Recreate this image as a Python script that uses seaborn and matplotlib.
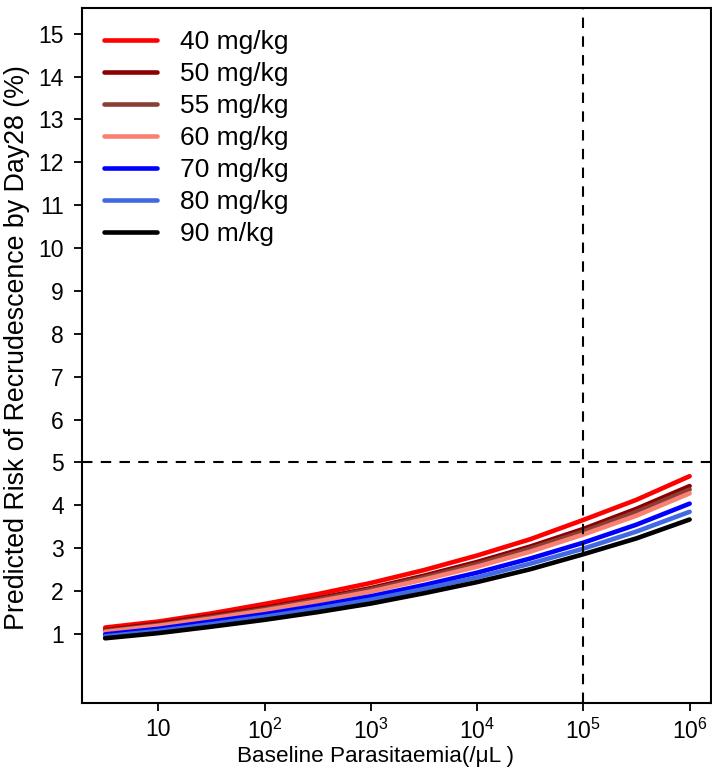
import numpy as np
import pandas as pd
import matplotlib
matplotlib.use("Agg")
import matplotlib.pyplot as plt
import seaborn as sns

# log10 parasitaemia positions at which the curves were read
log_parasitaemia = [0.5, 1.0, 1.5, 2.0, 2.5, 3.0, 3.5, 4.0, 4.5, 5.0, 5.5, 6.0]

doses = ["40 mg/kg", "50 mg/kg", "55 mg/kg", "60 mg/kg", "70 mg/kg", "80 mg/kg", "90 m/kg"]
risk_40 = [1.15, 1.29, 1.48, 1.70, 1.93, 2.19, 2.49, 2.83, 3.21, 3.66, 4.13, 4.68]
risk_50 = [1.09, 1.24, 1.42, 1.61, 1.83, 2.07, 2.36, 2.68, 3.04, 3.45, 3.92, 4.45]
risk_55 = [1.07, 1.21, 1.39, 1.58, 1.80, 2.04, 2.32, 2.63, 2.99, 3.39, 3.85, 4.37]
risk_60 = [1.05, 1.19, 1.36, 1.55, 1.76, 1.99, 2.27, 2.57, 2.92, 3.32, 3.76, 4.28]
risk_70 = [0.99, 1.12, 1.29, 1.46, 1.66, 1.88, 2.14, 2.43, 2.76, 3.13, 3.55, 4.04]
risk_80 = [0.945, 1.07, 1.23, 1.40, 1.59, 1.80, 2.05, 2.32, 2.64, 2.99, 3.39, 3.85]
risk_90 = [0.90, 1.02, 1.17, 1.33, 1.51, 1.71, 1.95, 2.21, 2.51, 2.86, 3.23, 3.67]
colors = ["#FF0000", "#8B0000", "#8B3E35", "#FA8072", "#0000FF", "#4169E1", "#000000"]

series = [risk_40, risk_50, risk_55, risk_60, risk_70, risk_80, risk_90]
rows = []
for d, vals in zip(doses, series):
    for lx, v in zip(log_parasitaemia, vals):
        rows.append({"Parasitaemia": 10 ** lx, "Risk": v, "Dose": d})
df = pd.DataFrame(rows)

sns.set_style("ticks")
plt.rcParams["font.family"] = ["Liberation Sans", "DejaVu Sans"]
plt.rcParams["mathtext.fontset"] = "custom"
plt.rcParams["mathtext.rm"] = "Liberation Sans"
plt.rcParams["mathtext.it"] = "Liberation Sans"
for k in ["text.color", "axes.labelcolor", "xtick.color", "ytick.color",
          "xtick.labelcolor", "ytick.labelcolor"]:
    plt.rcParams[k] = "black"

fig = plt.figure(figsize=(7.12, 7.70), dpi=100)
ax = fig.add_axes([0.115, 0.087, 0.884, 0.9026])

sns.lineplot(data=df, x="Parasitaemia", y="Risk", hue="Dose", hue_order=doses,
             palette=dict(zip(doses, colors)), linewidth=3.3, ax=ax,
             solid_capstyle="round")

ax.set_xscale("log")
ax.set_xlim(10 ** 0.281, 10 ** 6.204)
ax.set_ylim(-0.61, 15.6)

ax.axhline(5, color="black", lw=1.5, ls=(0, (5, 4)))
ax.axvline(1e5, color="black", lw=1.5, ls=(0, (5, 4)))

ax.set_yticks(range(1, 16))
ax.set_yticklabels([str(i) for i in range(1, 16)])
xt = [10, 1e2, 1e3, 1e4, 1e5, 1e6]
ax.set_xticks(xt)
ax.set_xticklabels(["10"] + [r"$10^{%d}$" % k for k in range(2, 7)])
ax.minorticks_off()
ax.xaxis.set_minor_locator(matplotlib.ticker.NullLocator())
ax.tick_params(axis="both", direction="out", length=6, width=1.3, labelsize=16.5,
               colors="black", pad=5)
ax.tick_params(axis="y", pad=7)

for s in ax.spines.values():
    s.set_visible(True)
    s.set_linewidth(1.5)
    s.set_color("black")

ax.set_xlabel("Baseline Parasitaemia(/\u03bcL )", fontsize=16.2, labelpad=2)
ax.xaxis.set_label_coords(0.467, -0.052, transform=None) if False else None
ax.set_ylabel("Predicted Risk of Recrudescence by Day28 (%)", fontsize=19.3, labelpad=6)

# shift label centres to match the reference
xl = ax.xaxis.label
xl.set_x(0.467)
yl = ax.yaxis.label
yl.set_y(0.512)

leg = ax.legend(loc="upper left", frameon=False, fontsize=19, handlelength=2.0,
                handletextpad=0.85, labelspacing=0.30, borderaxespad=0.45,
                bbox_to_anchor=(0.0, 1.0))
for h in leg.get_lines():
    h.set_linewidth(3.3)
for t in leg.get_texts():
    t.set_color("black")
leg.set_title(None)

fig.savefig("out.png", dpi=100)
